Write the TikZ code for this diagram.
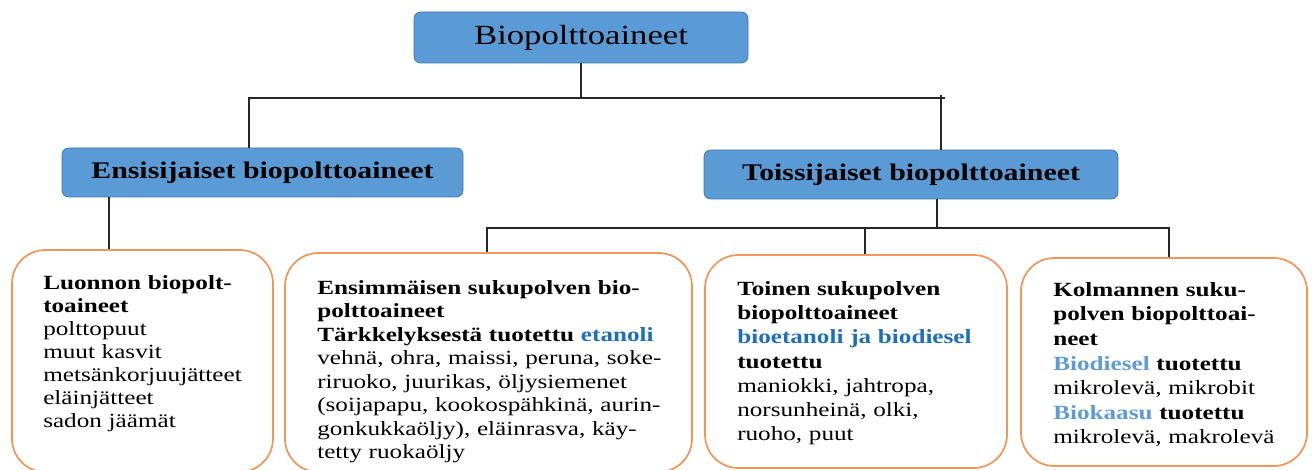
\documentclass[tikz,border=0pt]{standalone}
\usepackage{fontspec}
\setmainfont{Liberation Serif}[FakeStretch=1.25]
\definecolor{boxblue}{RGB}{91,155,213}
\definecolor{boxblueedge}{RGB}{65,120,175}
\definecolor{boxorange}{RGB}{240,150,90}
\definecolor{txtblue}{RGB}{30,110,190}
\definecolor{txtlight}{RGB}{95,155,215}

\begin{document}
\begin{tikzpicture}[x=0.75pt,y=-0.75pt,
  headbox/.style={draw=boxblueedge, fill=boxblue, line width=0.6pt,
    rounded corners=5pt, inner sep=0pt},
  leafbox/.style={draw=boxorange, line width=1.3pt, rounded corners=25pt,
    inner sep=0pt},
  leaftext/.style={anchor=north west, inner sep=0pt, align=left,
    text width=300pt},
  link/.style={draw=black!85, line width=0.8pt}]
\useasboundingbox (0,0) rectangle (1312,470);

% --- top level ---
\node[headbox, minimum width=250.5pt, minimum height=38.25pt,
  font=\fontsize{20.8pt}{24pt}\selectfont] (title) at (581,37.5) {Biopolttoaineet};

% --- second level ---
\node[headbox, minimum width=300.75pt, minimum height=36.75pt,
  font=\fontsize{17.9pt}{21pt}\selectfont\bfseries] (ens) at (262.5,172.5)
  {Ensisijaiset biopolttoaineet};
\node[headbox, minimum width=310.5pt, minimum height=36.75pt,
  font=\fontsize{17.9pt}{21pt}\selectfont\bfseries] (tois) at (911,174.5)
  {Toissijaiset biopolttoaineet};

% --- leaf boxes ---
\node[leafbox, minimum width=195.75pt, minimum height=166.5pt] (b1) at (142.5,361) {};
\node[leafbox, minimum width=305.25pt, minimum height=164.25pt] (b2) at (488.5,362.5) {};
\node[leafbox, minimum width=226.5pt, minimum height=159.75pt] (b3) at (856,361.5) {};
\node[leafbox, minimum width=214.5pt, minimum height=156pt] (b4) at (1164,362) {};

% --- leaf texts ---
\node[leaftext, font=\fontsize{15.1pt}{17.25pt}\selectfont] (t1) at (43,275)
  {\textbf{Luonnon biopolt-}\\\textbf{toaineet}\\polttopuut\\muut kasvit\\
   metsänkorjuujätteet\\eläinjätteet\\sadon jäämät};
\node[leaftext, font=\fontsize{15.1pt}{17.6pt}\selectfont] (t2) at (317,280)
  {\textbf{Ensimmäisen sukupolven bio-}\\\textbf{polttoaineet}\\
   \textbf{Tärkkelyksestä tuotettu \textcolor{txtblue}{etanoli}}\\
   vehnä, ohra, maissi, peruna, soke-\\riruoko, juurikas, öljysiemenet\\
   (soijapapu, kookospähkinä, aurin-\\gonkukkaöljy), eläinrasva, käy-\\
   tetty ruokaöljy};
\node[leaftext, font=\fontsize{15.1pt}{18.2pt}\selectfont] (t3) at (737,281)
  {\textbf{Toinen sukupolven}\\\textbf{biopolttoaineet}\\
   \textbf{\textcolor{txtblue}{bioetanoli ja biodiesel}}\\\textbf{tuotettu}\\
   maniokki, jahtropa,\\norsunheinä, olki,\\ruoho, puut};
\node[leaftext, font=\fontsize{15.1pt}{18.45pt}\selectfont] (t4) at (1053,282)
  {\textbf{Kolmannen suku-}\\\textbf{polven biopolttoai-}\\\textbf{neet}\\
   \textbf{\textcolor{txtlight}{Biodiesel} tuotettu}\\mikrolevä, mikrobit\\
   \textbf{\textcolor{txtlight}{Biokaasu} tuotettu}\\mikrolevä, makrolevä};

% --- connectors ---
\coordinate (jA) at (249,98);
\coordinate (jB) at (941,98);
\coordinate (kA) at (109,0);
\coordinate (jC) at (937,228);
\coordinate (jD) at (487,228);
\coordinate (jE) at (1169,228);
\coordinate (jF) at (865,228);

\draw[link] (title.south) -- (title.south |- jA);
\draw[link] (jA |- ens.north) -- (jA) -- ([xshift=3pt]jB);
\draw[link] ([yshift=2pt]jB) -- (jB |- tois.north);
\draw[link] (kA |- ens.south) -- (kA |- b1.north);
\draw[link] (jC |- tois.south) -- (jC);
\draw[link] (jD |- b2.north) -- (jD) -- (jE) -- (jE |- b4.north);
\draw[link] (jF) -- (jF |- b3.north);
\end{tikzpicture}
\end{document}
